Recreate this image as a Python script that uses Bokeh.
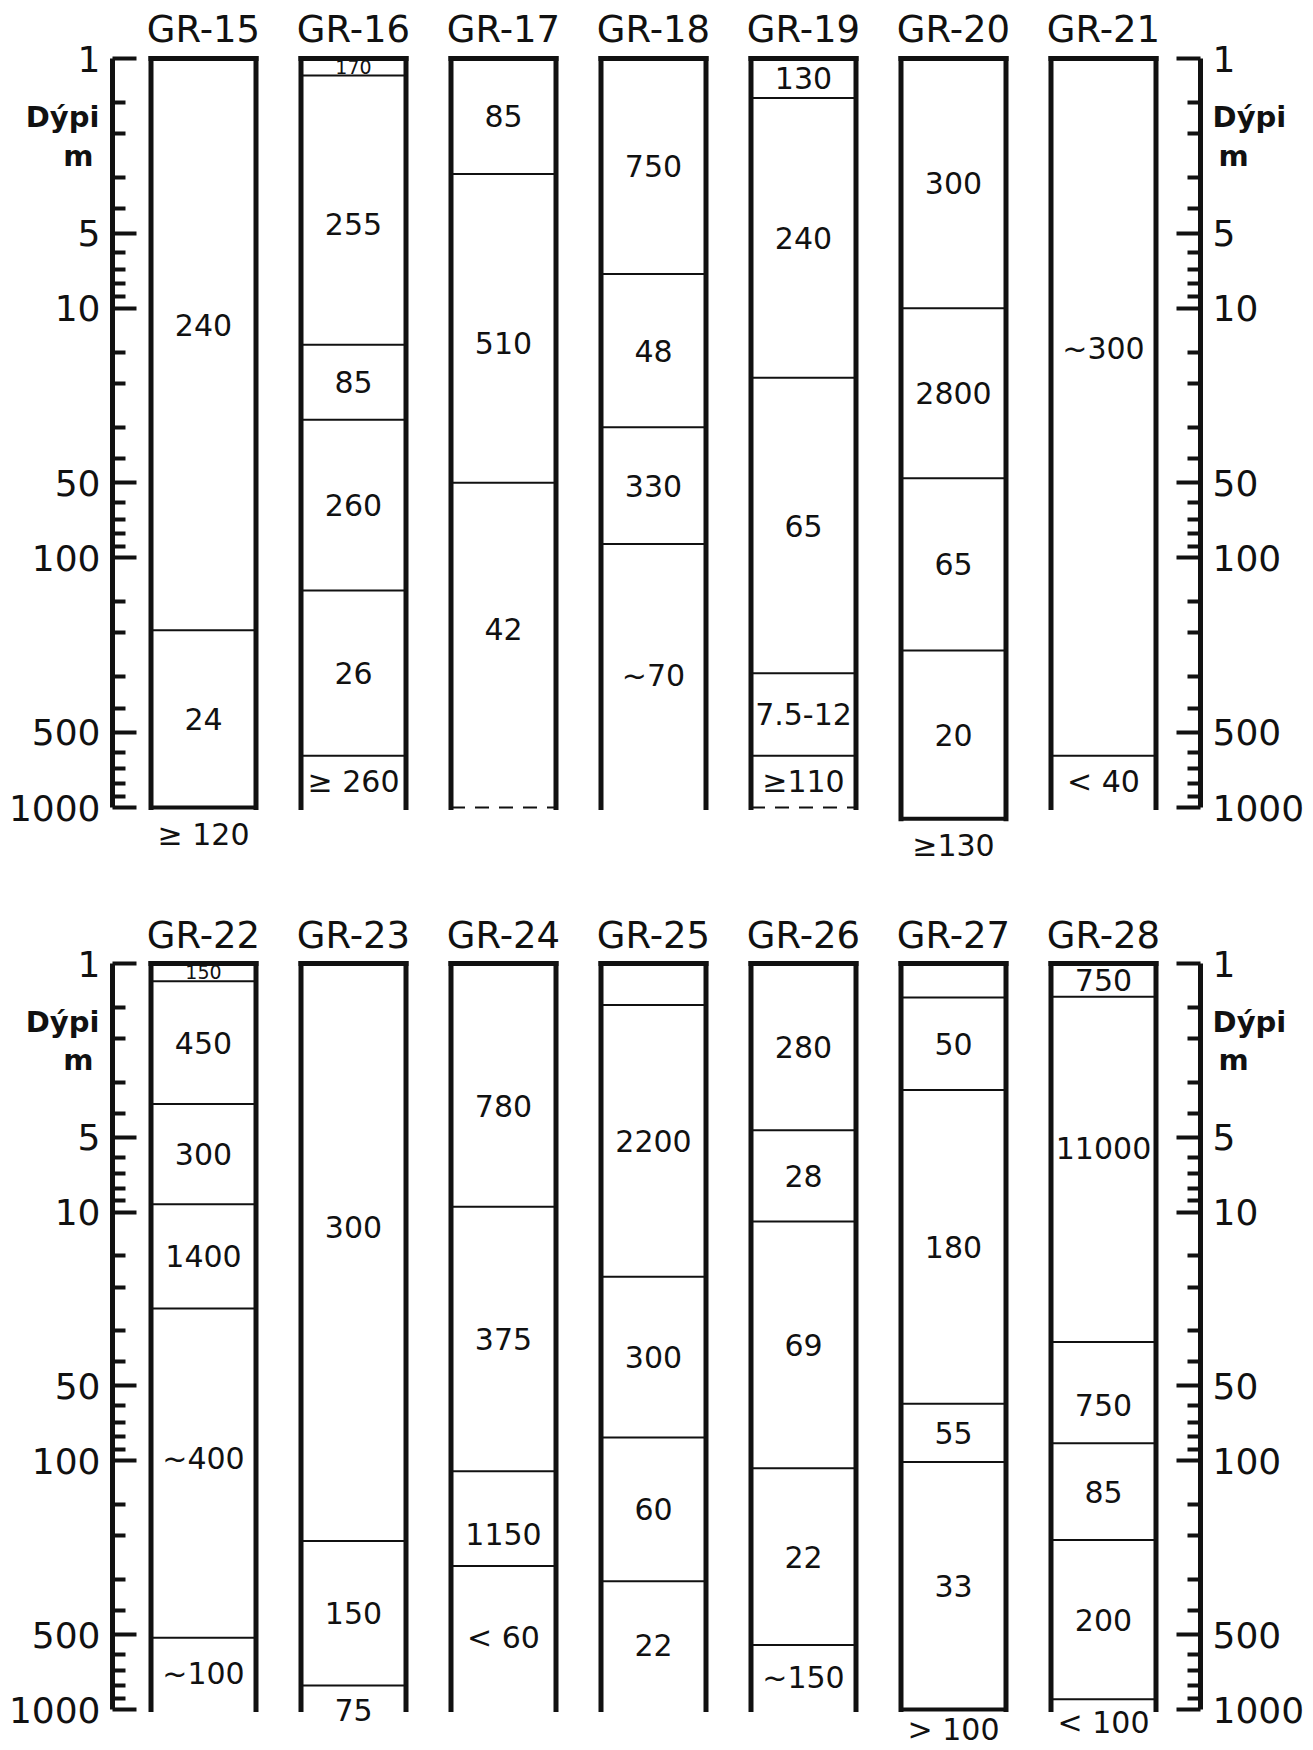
import math
from bokeh.plotting import figure
from bokeh.models import Range1d, LogAxis, FixedTicker, NumeralTickFormatter, ColumnDataSource
from bokeh.layouts import column
from bokeh.embed import file_html
from bokeh.resources import INLINE
from bokeh.core.properties import value

FONT = "DejaVu Sans"
INK = "#111111"

# ---------------- axis ticks (depth, m) ----------------
MAJOR_TICKS = [1, 5, 10, 50, 100, 500, 1000]
MINOR_TICKS = [1.5, 2, 3, 4, 6, 7, 8, 9, 15, 20, 30, 40, 60, 70, 80, 90,
               150, 200, 300, 400, 600, 700, 800, 900]
AXIS_TITLE = ["Dýpi", "m"]

# ---------------- upper panel ----------------
top_names = ["GR-15", "GR-16", "GR-17", "GR-18", "GR-19", "GR-20", "GR-21"]
top_interfaces = [
    [195],
    [1.17, 14, 28, 135, 620],
    [2.9, 50],
    [7.3, 30, 88],
    [1.44, 19, 290, 620],
    [10, 48, 235],
    [620],
]
top_values = [
    ["240", "24"],
    ["170", "255", "85", "260", "26", "≥ 260"],
    ["85", "510", "42"],
    ["750", "48", "330", "~70"],
    ["130", "240", "65", "7.5-12", "≥110"],
    ["300", "2800", "65", "20"],
    ["~300", "< 40"],
]
top_bottom_depth = [1000, 1000, 1000, 1000, 1000, 1110, 1000]
top_bottom_style = ["solid", "open", "dashed", "open", "dashed", "solid", "open"]
top_below = ["≥ 120", "", "", "", "", "≥130", ""]
top_label_depth = {("GR-15", 0): 11.7, ("GR-16", 1): 4.6, ("GR-17", 1): 13.8,
                   ("GR-17", 2): 193, ("GR-21", 0): 14.5}

# ---------------- lower panel ----------------
bot_names = ["GR-22", "GR-23", "GR-24", "GR-25", "GR-26", "GR-27", "GR-28"]
bot_interfaces = [
    [1.18, 3.67, 9.3, 24.4, 514],
    [210, 800],
    [9.5, 110, 265],
    [1.47, 18.2, 80.5, 305],
    [4.68, 10.9, 107, 550],
    [1.37, 3.23, 59, 101],
    [1.36, 33.3, 85, 208, 910],
]
bot_values = [
    ["150", "450", "300", "1400", "~400", "~100"],
    ["300", "150", "75"],
    ["780", "375", "1150", "< 60"],
    ["", "2200", "300", "60", "22"],
    ["280", "28", "69", "22", "~150"],
    ["", "50", "180", "55", "33"],
    ["750", "11000", "750", "85", "200", "< 100"],
]
bot_bottom_depth = [1000, 1000, 1000, 1000, 1000, 1000, 1000]
bot_bottom_style = ["open", "open", "open", "open", "open", "solid", "open"]
bot_below = ["", "", "", "", "", "> 100", ""]
bot_label_depth = {("GR-22", 4): 98, ("GR-23", 0): 11.5, ("GR-23", 2): 1000,
                   ("GR-24", 0): 3.74, ("GR-24", 2): 196, ("GR-28", 1): 5.5,
                   ("GR-28", 2): 59.6, ("GR-28", 5): 1130}

HW = 0.35  # half width of a column (x units, one unit per column)
X_START, X_END = -0.6067, 6.6467


def style_axis(ax):
    ax.ticker = FixedTicker(ticks=MAJOR_TICKS, minor_ticks=MINOR_TICKS)
    ax.formatter = NumeralTickFormatter(format="0")
    ax.bounds = (1, 1000)
    ax.axis_line_width = 5
    ax.axis_line_color = INK
    ax.major_tick_in = 24
    ax.major_tick_out = 0
    ax.minor_tick_in = 13
    ax.minor_tick_out = 0
    ax.major_tick_line_width = 4
    ax.minor_tick_line_width = 4
    ax.major_tick_line_color = INK
    ax.minor_tick_line_color = INK
    ax.major_label_text_font = FONT
    ax.major_label_text_font_size = "36px"
    ax.major_label_text_color = INK
    ax.major_label_standoff = 12


def make_panel(names, interfaces, values, bottoms, styles, below, label_depth,
               depth_top, depth_bottom, height, title_depth, k):
    p = figure(width=1313, height=height,
               x_range=Range1d(X_START, X_END),
               y_range=Range1d(depth_bottom, depth_top),
               y_axis_type="log", x_axis_location=None,
               toolbar_location=None, output_backend="svg",
               min_border_left=112, min_border_right=113,
               min_border_top=0, min_border_bottom=0,
               background_fill_color="white", border_fill_color="white",
               outline_line_color=None)
    p.grid.visible = False
    style_axis(p.yaxis[0])
    right = LogAxis()
    style_axis(right)
    p.add_layout(right, "right")

    xs = list(range(len(names)))

    # column sides
    sx0, sy0, sx1, sy1 = [], [], [], []
    for i in xs:
        for sgn in (-1, 1):
            sx0.append(i + sgn * HW); sx1.append(i + sgn * HW)
            sy0.append(1); sy1.append(bottoms[i])
    p.segment(sx0, sy0, sx1, sy1, line_width=5, line_color=INK, line_cap="square")
    # top caps
    p.segment([i - HW for i in xs], [1] * len(xs), [i + HW for i in xs], [1] * len(xs),
              line_width=5, line_color=INK, line_cap="square")
    # interfaces
    ix0, ix1, iy = [], [], []
    for i in xs:
        for d in interfaces[i]:
            ix0.append(i - HW); ix1.append(i + HW); iy.append(d)
    p.segment(ix0, iy, ix1, iy, line_width=2, line_color=INK)
    # bottoms
    for kind, lw, dash in (("solid", 4, "solid"), ("dashed", 2, "14 10")):
        idx = [i for i in xs if styles[i] == kind]
        if idx:
            p.segment([i - HW for i in idx], [bottoms[i] for i in idx],
                      [i + HW for i in idx], [bottoms[i] for i in idx],
                      line_width=lw, line_color=INK, line_dash=dash)

    # layer labels
    big = dict(x=[], y=[], t=[])
    small = dict(x=[], y=[], t=[])
    below_lim = depth_bottom * 10 ** (-21 / k)
    for i, name in enumerate(names):
        tops = [1] + interfaces[i]
        bots = interfaces[i] + [bottoms[i]]
        for j, txt in enumerate(values[i]):
            if not txt:
                continue
            if (name, j) in label_depth:
                d = label_depth[(name, j)]
                tgt = big
            else:
                d = math.sqrt(tops[j] * bots[j])
                tgt = small if math.log10(bots[j] / tops[j]) < 0.1 else big
            tgt["x"].append(i); tgt["y"].append(d); tgt["t"].append(txt)
        if below[i]:
            big["x"].append(i)
            big["y"].append(min(bottoms[i] * 10 ** (27 / k), below_lim))
            big["t"].append(below[i])
    p.text(x="x", y="y", text="t", source=ColumnDataSource(big),
           text_align="center", text_baseline="middle", text_color=INK,
           text_font=value(FONT), text_font_size="30px")
    p.text(x="x", y="y", text="t", source=ColumnDataSource(small),
           text_align="center", text_baseline="middle", text_color=INK,
           text_font=value(FONT), text_font_size="19px")

    # column titles
    p.text(x=xs, y=[title_depth] * len(xs), text=names,
           text_align="center", text_baseline="middle", text_color=INK,
           text_font=value(FONT), text_font_size="37px")

    # depth titles beside both axes (drawn above the frame clip)
    for xa, al, off in ((X_START + 0.006, "right", (-14, -20)),
                        (X_END - 0.006, "left", (13, 19))):
        for word, dep, dx in ((AXIS_TITLE[0], 1.72, off[0]), (AXIS_TITLE[1], 2.45, off[1])):
            p.text(x=[xa], y=[dep], text=[word], x_offset=dx,
                   text_align=al, text_baseline="middle", text_color=INK,
                   text_font=value(FONT), text_font_size="29px",
                   text_font_style="bold", level="overlay")
    return p


K_TOP = 249.67
K_BOT = 248.67
p_top = make_panel(top_names, top_interfaces, top_values, top_bottom_depth,
                   top_bottom_style, top_below, top_label_depth,
                   depth_top=10 ** (-58 / K_TOP), depth_bottom=10 ** ((880 - 58) / K_TOP),
                   height=880, title_depth=0.767, k=K_TOP)
p_bot = make_panel(bot_names, bot_interfaces, bot_values, bot_bottom_depth,
                   bot_bottom_style, bot_below, bot_label_depth,
                   depth_top=10 ** (-83 / K_BOT), depth_bottom=10 ** ((870 - 83) / K_BOT),
                   height=870, title_depth=0.771, k=K_BOT)

layout = column(p_top, p_bot)
open("out.html", "w").write(file_html(layout, INLINE))
